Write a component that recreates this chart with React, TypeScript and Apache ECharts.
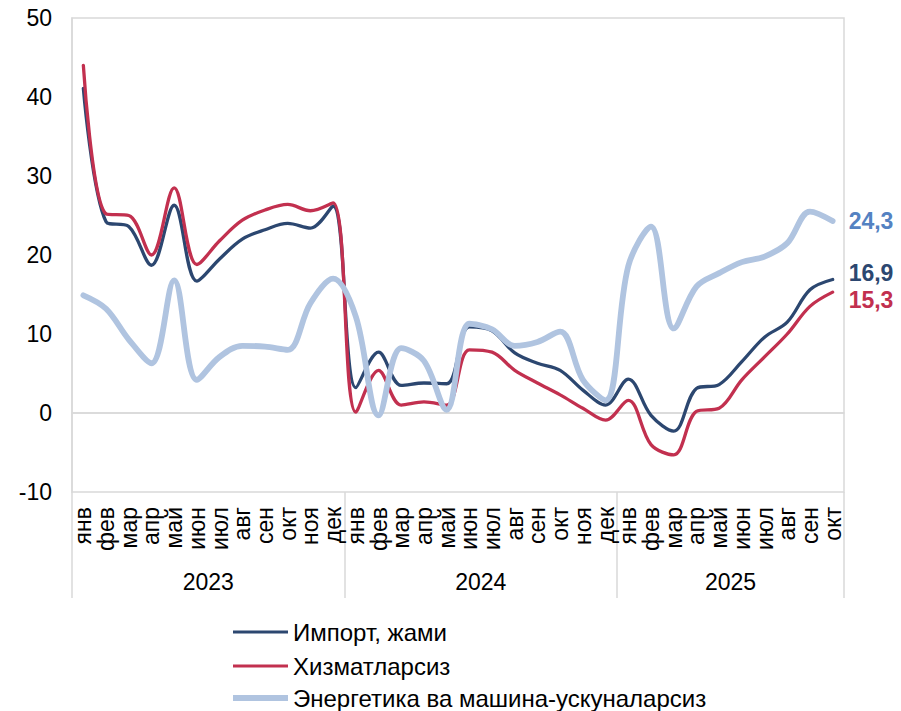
import React, { useEffect, useRef } from "react";
import * as echarts from "echarts";

const monthNames = ["янв", "фев", "мар", "апр", "май", "июн", "июл", "авг", "сен", "окт", "ноя", "дек"];
const years = ["2023", "2024", "2025"];
const monthsPerYear = [12, 12, 10];

const categories: string[] = [];
monthsPerYear.forEach((n) => {
  for (let i = 0; i < n; i++) categories.push(monthNames[i]);
});

const importTotal = [41.1, 24.2, 23.6, 18.7, 26.3, 16.7, 19.5, 22.0, 23.2, 24.0, 23.4, 26.2,
  3.2, 7.7, 3.5, 3.8, 3.7, 10.9, 10.4, 7.6, 6.3, 5.4, 2.9, 1.0,
  4.3, -0.3, -2.3, 3.1, 3.6, 6.5, 9.6, 11.5, 15.6, 16.9];
const noServices = [44.0, 25.2, 25.0, 20.0, 28.5, 18.8, 21.8, 24.4, 25.7, 26.4, 25.6, 26.6,
  0.1, 5.4, 1.0, 1.4, 1.0, 8.0, 7.7, 5.4, 3.8, 2.3, 0.6, -0.9,
  1.6, -4.0, -5.3, 0.2, 0.6, 4.2, 7.1, 10.0, 13.5, 15.3];
const noEnergyMachinery = [14.9, 13.2, 9.3, 6.3, 16.8, 4.2, 7.1, 8.5, 8.4, 8.0, 13.9, 17.0,
  12.2, -0.3, 8.2, 6.6, 0.4, 11.3, 10.6, 8.5, 9.0, 10.3, 4.2, 1.6,
  18.6, 23.6, 10.7, 16.0, 17.7, 19.1, 19.8, 21.5, 25.5, 24.3];

const seriesNames = ["Импорт, жами", "Хизматларсиз", "Энергетика ва машина-ускуналарсиз"];
const legendIcons = ["path://M0,0H55V3.2H0Z", "path://M0,0H55V3.2H0Z", "path://M0,0H55V5.8H0Z"];

const yearBounds: number[] = [0];
monthsPerYear.forEach((n, i) => yearBounds.push(yearBounds[i] + n));
const yearCenters = monthsPerYear.map((n, i) => yearBounds[i] + n / 2);

const FONT = "'Liberation Sans', Arial, sans-serif";
const fmt = (v: number) => String(v).replace(".", ",");

export default function App() {
  const ref = useRef<HTMLDivElement>(null);
  useEffect(() => {
    if (!ref.current) return;
    document.body.style.margin = "0";
    const chart = echarts.init(ref.current, null, { renderer: "svg" });
    const gray = "#d9d9d9";
    const mkSeries = (name: string, data: number[], color: string, width: number, labelColor: string, dy: number, extra: any = {}) => ({
      name,
      type: "line",
      data,
      smooth: 0.35,
      symbol: "none",
      lineStyle: { color, width, cap: "round", join: "round" },
      itemStyle: { color },
      endLabel: {
        show: true,
        formatter: (p: any) => fmt(p.value),
        color: labelColor,
        fontFamily: FONT,
        fontWeight: "bold",
        fontSize: 23,
        distance: 16,
        offset: [0, dy],
      },
      ...extra,
    });
    const legendTops = [620, 654, 686];
    chart.setOption({
      animation: false,
      textStyle: { fontFamily: FONT },
      grid: {
        left: 72,
        right: 57,
        top: 18,
        bottom: 219,
        show: true,
        borderColor: gray,
        borderWidth: 1.5,
        containLabel: false,
      },
      legend: seriesNames.map((name, i) => ({
        orient: "vertical",
        left: 233,
        top: legendTops[i],
        padding: 0,
        itemWidth: 55,
        itemHeight: 14,
        textStyle: { fontFamily: FONT, fontSize: 24, color: "#000" },
        data: [{ name, icon: legendIcons[i] }],
      })),
      xAxis: [
        {
          type: "category",
          data: categories,
          boundaryGap: true,
          position: "bottom",
          axisLine: { show: true, lineStyle: { color: gray, width: 1.5 } },
          axisTick: { show: false },
          axisLabel: {
            rotate: 90,
            interval: 0,
            margin: 15,
            fontFamily: FONT,
            fontSize: 23,
            color: "#000",
          },
          splitLine: { show: false },
        },
        {
          type: "value",
          min: 0,
          max: yearBounds[yearBounds.length - 1],
          position: "bottom",
          axisLine: { show: false },
          splitLine: { show: false },
          axisTick: {
            show: true,
            customValues: yearBounds,
            length: 106,
            lineStyle: { color: gray, width: 1.5 },
          },
          axisLabel: {
            customValues: yearCenters,
            margin: 78,
            fontFamily: FONT,
            fontSize: 23,
            color: "#000",
            formatter: (v: number) => {
              const idx = yearCenters.indexOf(v);
              return idx >= 0 ? years[idx] : "";
            },
          },
        },
      ],
      yAxis: {
        type: "value",
        min: -10,
        max: 50,
        interval: 10,
        axisLine: { show: true, lineStyle: { color: gray, width: 1.5 } },
        axisTick: { show: false },
        splitLine: { show: false },
        axisLabel: { margin: 20, fontFamily: FONT, fontSize: 23, color: "#000" },
      },
      series: [
        mkSeries(seriesNames[0], importTotal, "#2c4770", 3.3, "#2c4770", -6, {
          markLine: {
            silent: true,
            symbol: "none",
            label: { show: false },
            lineStyle: { color: gray, width: 1.5, type: "solid" },
            data: [{ yAxis: 0 }],
            z: 1,
          },
        }),
        mkSeries(seriesNames[1], noServices, "#c2304f", 3.3, "#c2304f", 8),
        mkSeries(seriesNames[2], noEnergyMachinery, "#b0c4e0", 5.8, "#5482c2", 0),
      ],
    });
    return () => chart.dispose();
  }, []);
  return <div ref={ref} style={{ width: 901, height: 711 }} />;
}
